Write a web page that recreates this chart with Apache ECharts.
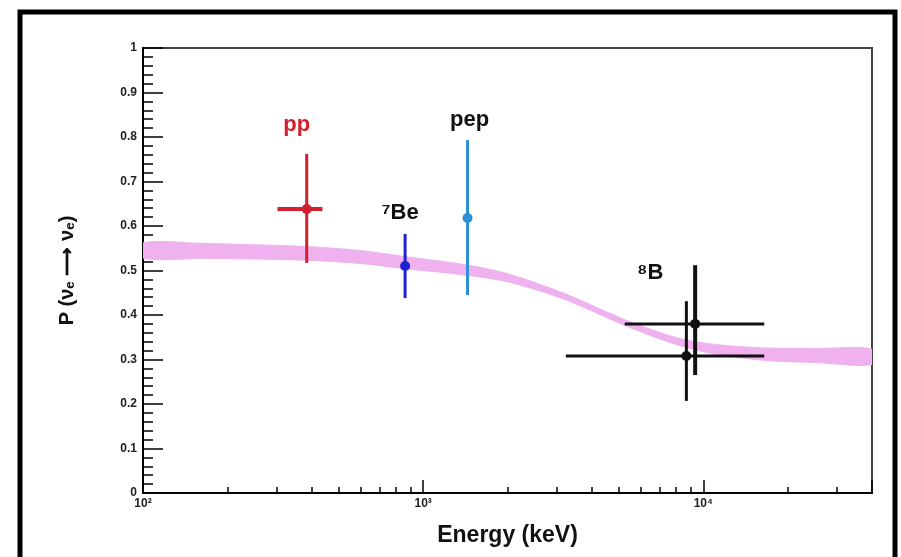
<!DOCTYPE html>
<html lang="en">
<head>
<meta charset="utf-8">
<title>Solar neutrino survival probability</title>
<script src="https://cdn.jsdelivr.net/npm/echarts@6/dist/echarts.min.js"></script>
<style>
  html, body { margin: 0; padding: 0; background: #fff; }
  #chart { width: 901px; height: 557px; }
</style>
</head>
<body>
<div id="chart"></div>
<script>
// ---- data ----
var names = ['pp', '\u2077Be', 'pep', '\u2078B', '\u2078B'];
var energy = [384, 862, 1440, 8700, 9350];          // keV
var prob = [0.638, 0.51, 0.618, 0.308, 0.38];
var eLow = [302, null, null, 3230, 5240];
var eHigh = [437, null, null, 16500, 16500];
var pLow = [0.517, 0.438, 0.445, 0.207, 0.265];
var pHigh = [0.762, 0.582, 0.793, 0.431, 0.512];

// MSW-LMA band (pink): lower and upper edges
var curveE = [100, 160, 240, 380, 592, 867, 1445, 2020, 3230, 5270, 8150, 11300, 16600, 25600, 40000];
var curveLow = [0.528, 0.527, 0.526, 0.523, 0.516, 0.504, 0.489, 0.474, 0.434, 0.376, 0.332, 0.311, 0.298, 0.293, 0.289];
var curveHigh = [0.562, 0.561, 0.558, 0.554, 0.545, 0.531, 0.512, 0.492, 0.447, 0.389, 0.348, 0.333, 0.326, 0.325, 0.323];

var xTickValues = [100, 1000, 10000];
var xTickLabels = ['10\u00b2', '10\u00b3', '10\u2074'];

// ---- styles ----
var pointColors = ['#d3202e', '#1f22d2', '#2a8fd6', '#111111', '#111111'];
var vWidth = [3, 3, 3, 3, 4];
var hWidth = [4, 3, 3, 3, 3];
var labelOffsets = [[-10, -84], [-5, -53], [2, -98], [0, 0], [-45, -51]];
var font = 'Liberation Sans, Arial, Helvetica, sans-serif';
var bandColor = '#efb2ef';

var chart = echarts.init(document.getElementById('chart'));

var labelData = energy.map(function (e, i) {
  return {
    name: names[i],
    value: [e, prob[i]],
    label: {
      show: i !== 3,
      offset: labelOffsets[i],
      color: i === 0 ? pointColors[0] : '#111'
    }
  };
});

chart.setOption({
  animation: false,
  backgroundColor: '#fff',
  graphic: [{
    type: 'rect',
    shape: { x: 20, y: 12, width: 875, height: 560 },
    style: { fill: 'none', stroke: '#000', lineWidth: 5 },
    z: 100
  }],
  grid: {
    left: 143, top: 48, right: 29, bottom: 64,
    show: true,
    borderColor: '#444',
    borderWidth: 2
  },
  xAxis: {
    type: 'log',
    logBase: 10,
    min: 100,
    max: 40000,
    name: 'Energy (keV)',
    nameLocation: 'middle',
    nameGap: 31,
    nameTextStyle: { fontFamily: font, fontSize: 23, fontWeight: 'bold', color: '#111' },
    axisLine: { lineStyle: { color: '#000', width: 2 } },
    axisTick: { inside: true, length: 13, lineStyle: { color: '#000', width: 1.5 } },
    minorTick: { show: true, splitNumber: 9, length: 6, lineStyle: { color: '#000', width: 1.5 } },
    splitLine: { show: false },
    axisLabel: {
      margin: 5,
      showMaxLabel: false,
      fontFamily: font,
      fontSize: 12,
      fontWeight: 'bold',
      color: '#222',
      formatter: function (v) {
        var k = xTickValues.indexOf(v);
        return k >= 0 ? xTickLabels[k] : '';
      }
    }
  },
  yAxis: {
    type: 'value',
    min: 0,
    max: 1,
    interval: 0.1,
    name: 'P (\u03bd\u2091 \u27f6 \u03bd\u2091)',
    nameLocation: 'middle',
    nameRotate: 90,
    nameGap: 66,
    nameTextStyle: { fontFamily: font, fontSize: 20, fontWeight: 'bold', color: '#111' },
    axisLine: { lineStyle: { color: '#000', width: 2 } },
    axisTick: { inside: true, length: 20, lineStyle: { color: '#000', width: 1.5 } },
    minorTick: { show: true, splitNumber: 5, length: 10, lineStyle: { color: '#000', width: 1.5 } },
    splitLine: { show: false },
    axisLabel: {
      margin: 6,
      fontFamily: font,
      fontSize: 12,
      fontWeight: 'bold',
      color: '#222'
    }
  },
  series: [
    {
      // band drawn as one polygon: upper edge left->right, lower edge right->left
      type: 'custom',
      clip: true,
      z: 1,
      data: [[curveE[0], curveHigh[0]]],
      encode: { x: 0, y: 1 },
      renderItem: function (params, api) {
        var pts = [];
        for (var i = 0; i < curveE.length; i++) pts.push(api.coord([curveE[i], curveHigh[i]]));
        for (var j = curveE.length - 1; j >= 0; j--) pts.push(api.coord([curveE[j], curveLow[j]]));
        return {
          type: 'polygon',
          shape: { points: pts, smooth: 0.3 },
          style: { fill: bandColor, stroke: bandColor, lineWidth: 1 }
        };
      }
    },
    {
      type: 'custom',
      data: energy.map(function (e, i) { return [e, prob[i]]; }),
      encode: { x: 0, y: 1 },
      z: 5,
      renderItem: function (params, api) {
        var i = params.dataIndex;
        var color = pointColors[i];
        var c = api.coord([energy[i], prob[i]]);
        var kids = [];
        if (eLow[i] != null) {
          var a = api.coord([eLow[i], prob[i]]);
          var b = api.coord([eHigh[i], prob[i]]);
          kids.push({ type: 'line', shape: { x1: a[0], y1: a[1], x2: b[0], y2: b[1] },
            style: { stroke: color, lineWidth: hWidth[i] } });
        }
        var lo = api.coord([energy[i], pLow[i]]);
        var hi = api.coord([energy[i], pHigh[i]]);
        kids.push({ type: 'line', shape: { x1: lo[0], y1: lo[1], x2: hi[0], y2: hi[1] },
          style: { stroke: color, lineWidth: vWidth[i] } });
        kids.push({ type: 'circle', shape: { cx: c[0], cy: c[1], r: 5 }, style: { fill: color } });
        return { type: 'group', children: kids };
      }
    },
    {
      type: 'scatter',
      data: labelData,
      symbolSize: 0,
      itemStyle: { opacity: 1 },
      z: 6,
      label: {
        position: 'inside',
        formatter: '{b}',
        fontFamily: font,
        fontSize: 22,
        fontWeight: 'bold'
      }
    }
  ]
});
</script>
</body>
</html>
